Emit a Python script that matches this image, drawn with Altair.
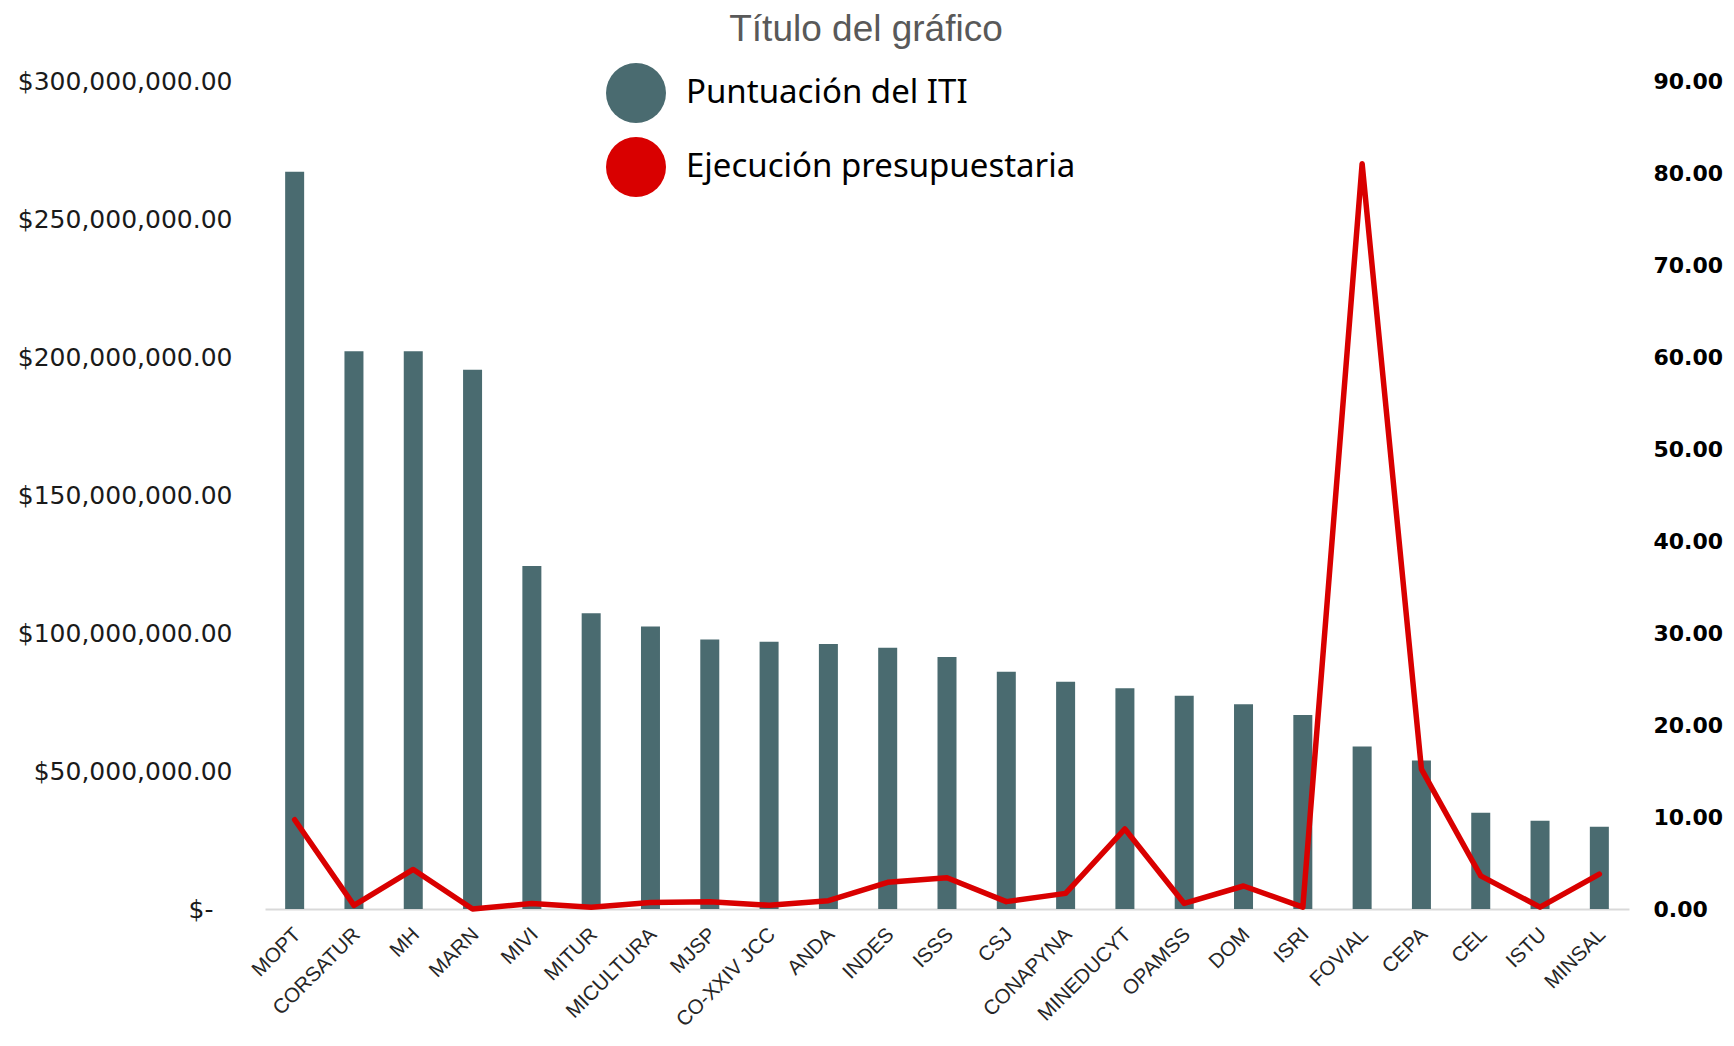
import altair as alt
import pandas as pd

instituciones = ["MOPT", "CORSATUR", "MH", "MARN", "MIVI", "MITUR", "MICULTURA", "MJSP",
                 "CO-XXIV JCC", "ANDA", "INDES", "ISSS", "CSJ", "CONAPYNA", "MINEDUCYT",
                 "OPAMSS", "DOM", "ISRI", "FOVIAL", "CEPA", "CEL", "ISTU", "MINSAL"]

# Bars (left axis, US$)
montos_millones = [267.1, 202.1, 202.1, 195.4, 124.3, 107.2, 102.4, 97.6, 96.8, 96.0, 94.7,
                   91.3, 86.0, 82.3, 80.0, 77.3, 74.2, 70.3, 58.9, 53.8, 34.9, 32.0, 29.8]

# Line (right axis)
ejecucion = [9.7, 0.4, 4.3, 0.0, 0.6, 0.2, 0.7, 0.8, 0.4, 0.9, 2.9, 3.4, 0.8, 1.7, 8.7,
             0.6, 2.5, 0.2, 81.0, 15.2, 3.6, 0.2, 3.8]

serie_barras = "Puntuación del ITI"
serie_linea = "Ejecución presupuestaria"
series = [serie_barras, serie_linea]
colores = ["#4A6B70", "#D90000"]

left_ticks = [0, 50e6, 100e6, 150e6, 200e6, 250e6, 300e6]
right_ticks = [0, 10, 20, 30, 40, 50, 60, 70, 80, 90]

df_bar = pd.DataFrame({
    "inst": instituciones,
    "monto": [v * 1e6 for v in montos_millones],
    "serie": serie_barras,
})
df_line = pd.DataFrame({
    "inst": instituciones,
    "ejec": ejecucion,
    "serie": serie_linea,
})

color_scale = alt.Scale(domain=series, range=colores)

x_enc = alt.X(
    "inst:N", sort=instituciones,
    scale=alt.Scale(paddingInner=0, paddingOuter=0),
    axis=alt.Axis(title=None, labelAngle=-45, labelFont="Liberation Sans", labelFontSize=20.5,
                  labelColor="#262626", domainColor="#D9D9D9", domainWidth=2, ticks=False,
                  labelPadding=15, labelOffset=-4, grid=False, labelLimit=400),
)

bars = alt.Chart(df_bar).mark_bar(size=19).encode(
    x=x_enc,
    y=alt.Y("monto:Q", scale=alt.Scale(domain=[0, 300e6], nice=False),
            axis=alt.Axis(orient="left", title=None, values=left_ticks, grid=False,
                          domain=False, ticks=False, labelFont="DejaVu Sans", labelFontSize=25,
                          labelColor="#1a1a1a", labelLimit=400,
                          labelPadding={"condition": {"test": "datum.value == 0", "value": 52},
                                        "value": 33},
                          labelExpr="datum.value == 0 ? '$-' : '$' + format(datum.value, ',.2f')")),
    color=alt.Color("serie:N", scale=color_scale,
                    legend=alt.Legend(orient="none", legendX=341, legendY=-18, title=None,
                                      symbolType="circle", symbolSize=3600, symbolStrokeWidth=0,
                                      labelFont="Noto Sans", labelFontSize=33, labelColor="#000000",
                                      labelOffset=20, rowPadding=14, padding=0, labelLimit=0,
                                      direction="vertical")),
)

line = alt.Chart(df_line).mark_line(strokeWidth=5.5, strokeJoin="round", strokeCap="round").encode(
    x=x_enc,
    y=alt.Y("ejec:Q", scale=alt.Scale(domain=[0, 90], nice=False),
            axis=alt.Axis(orient="right", title=None, values=right_ticks, format=".2f", grid=False,
                          domain=False, ticks=False, labelFont="DejaVu Sans", labelFontSize=22,
                          labelFontWeight="bold", labelColor="#000000", labelPadding=24,
                          labelLimit=200)),
    color=alt.Color("serie:N", scale=color_scale, legend=None),
)

chart = alt.layer(bars, line).resolve_scale(y="independent").properties(
    width=1364,
    height=828,
    autosize=alt.AutoSizeParams(type="none"),
    padding={"left": 257, "top": 73, "right": 97, "bottom": 124},
    title=alt.TitleParams("Título del gráfico", font="Liberation Sans", fontSize=37,
                          fontWeight="normal", color="#595959", anchor="middle", frame="group",
                          dx=-81, dy=40, baseline="alphabetic", offset=25),
).configure_view(stroke=None)

chart.save("out.html", embed_options={"renderer": "svg", "actions": False})
